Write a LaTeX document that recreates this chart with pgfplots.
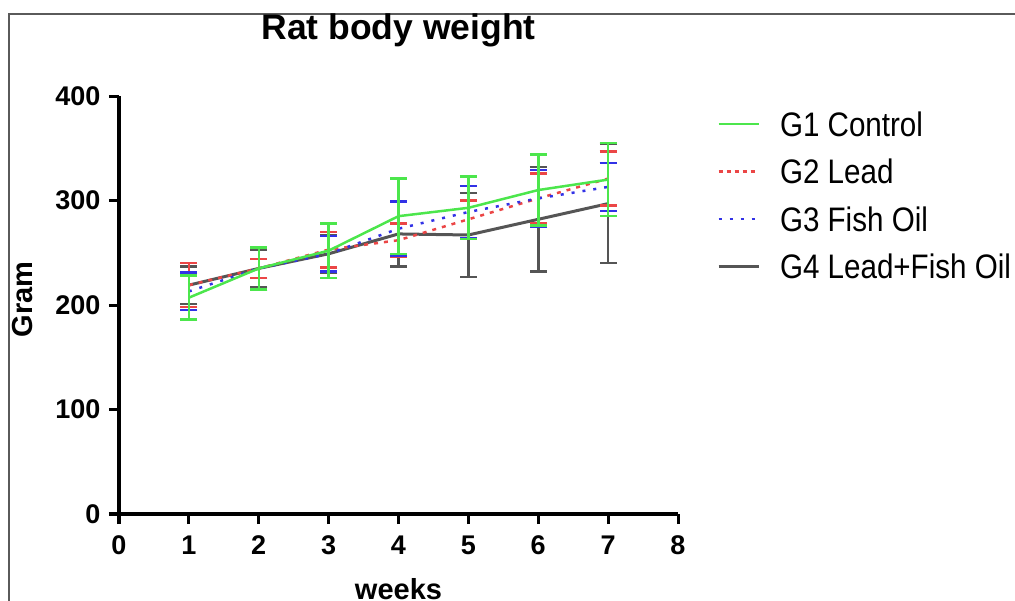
\documentclass[border=0pt]{standalone}
\usepackage{pgfplots}
\pgfplotsset{compat=1.18}
\usepackage{fontspec}
\setmainfont{Liberation Sans}
\newfontfamily\legfont[FakeStretch=0.87]{Liberation Sans}
\definecolor{cG1}{RGB}{76,230,76}
\definecolor{cG2}{RGB}{235,70,70}
\definecolor{cG3}{RGB}{50,50,230}
\definecolor{cG4}{RGB}{85,85,85}
\definecolor{frame}{RGB}{90,90,90}
\begin{document}
\begin{tikzpicture}
\useasboundingbox (0bp,0bp) rectangle (1015bp,601bp);
\draw[line width=2bp, frame] (8.5bp,0bp) -- (8.5bp,587bp) -- (1015bp,587bp);
\begin{axis}[
  at={(119bp,87bp)}, anchor=south west,
  scale only axis, width=559bp, height=418bp,
  xmin=0, xmax=8, ymin=0, ymax=400,
  xtick={0,1,...,8}, ytick={0,100,200,300,400},
  axis x line*=bottom, axis y line*=left,
  axis line style={line width=3bp, -, black},
  tick align=outside, major tick length=10bp,
  tick style={line width=3bp, black},
  /pgf/number format/assume math mode=true,
  ticklabel style={font=\fontsize{27bp}{32bp}\selectfont\bfseries},
  xticklabel style={yshift=-8bp},
  yticklabel style={xshift=-5bp},
  title={Rat body weight},
  title style={font=\fontsize{35.5bp}{40bp}\selectfont\bfseries, at={(axis description cs:0.5,1)}, anchor=base, yshift=51bp},
  xlabel={weeks},
  every axis x label/.style={at={(axis description cs:0.5,0)}, anchor=base, yshift=-85bp, font=\fontsize{29bp}{34bp}\selectfont\bfseries},
  ylabel={Gram},
  every axis y label/.style={at={(axis description cs:-0.154,0.514)}, rotate=90, anchor=base, font=\fontsize{29bp}{34bp}\selectfont\bfseries},
  legend style={at={(axis description cs:1.0698,0.9617)}, anchor=north west, draw=none, fill=none,
    inner sep=0pt, outer sep=0pt, row sep=23.5bp, column sep=20bp,
    nodes={inner sep=0pt, text height=24bp, text depth=0bp},
    font=\fontsize{34bp}{40bp}\legfont},
  legend cell align=left,
  legend image code/.code={\draw[#1] (0bp,0bp) -- (40bp,0bp);},
  clip=false,
  error bars/y dir=both, error bars/y explicit,
  error bars/error mark=-,
]
\addlegendimage{cG1, line width=2.5bp}
\addlegendentry{G1 Control}
\addlegendimage{cG2, line width=2.5bp, dash pattern=on 4bp off 4bp}
\addlegendentry{G2 Lead}
\addlegendimage{cG3, line width=2.5bp, dash pattern=on 3bp off 8bp}
\addlegendentry{G3 Fish Oil}
\addlegendimage{cG4, line width=3bp}
\addlegendentry{G4 Lead+Fish Oil}

% G4 Lead+Fish Oil
\addplot[cG4, line width=3bp, forget plot,
  error bars/error bar style={cG4, line width=2.5bp, solid},
  error bars/error mark options={rotate=90, cG4, mark size=8.5bp, line width=2.5bp, solid}]
  table[x=x, y=y, y error=e] {
x y e
1 219 18
2 235 18
3 249 18
4 268 31
5 267 40
6 282 50
7 297 57
};
% G2 Lead
\addplot[cG2, line width=2.5bp, dash pattern=on 4bp off 6bp, forget plot,
  error bars/error bar style={cG2, line width=2.5bp, solid},
  error bars/error mark options={rotate=90, cG2, mark size=8.5bp, line width=2.5bp, solid}]
  table[x=x, y=y, y error=e] {
x y e
1 219 21
2 235 9
3 253 17
4 262 16
5 282 18
6 302 24
7 321 26
};
% G3 Fish Oil
\addplot[cG3, line width=2.5bp, dash pattern=on 3bp off 8bp, forget plot,
  error bars/error bar style={cG3, line width=2.5bp, solid},
  error bars/error mark options={rotate=90, cG3, mark size=8.5bp, line width=2.5bp, solid}]
  table[x=x, y=y, y error=e] {
x y e
1 213 18
2 235 20
3 249 17
4 273 26
5 289 25
6 302 27
7 313 23
};
% G1 Control
\addplot[cG1, line width=2.5bp, forget plot,
  error bars/error bar style={cG1, line width=2.5bp, solid},
  error bars/error mark options={rotate=90, cG1, mark size=8.5bp, line width=2.5bp, solid}]
  table[x=x, y=y, y error=e] {
x y e
1 207 21
2 235 20
3 252 26
4 285 36
5 293 30
6 310 34
7 320 35
};
\end{axis}
\end{tikzpicture}
\end{document}
